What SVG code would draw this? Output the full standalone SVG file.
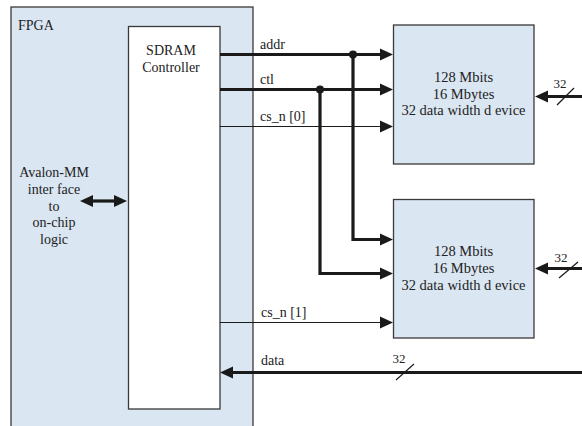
<svg xmlns="http://www.w3.org/2000/svg" width="582" height="426" viewBox="0 0 582 426">
<style>
  .box{fill:#dae6f2;stroke:#3a3a3a;stroke-width:1.3}
  .ctrl{fill:#ffffff;stroke:#3a3a3a;stroke-width:1.3}
  text{font-family:"Liberation Serif","Times New Roman",serif;font-size:14px;fill:#222}
  .c{text-anchor:middle}
  .m{font-size:14.5px}
  .sm{font-size:13px}
  .thick{stroke:#1a1a1a;stroke-width:3.2;fill:none}
  .thin{stroke:#1a1a1a;stroke-width:1.2;fill:none}
  .ah{marker-end:url(#ah)}
</style>
<defs>
  <marker id="ah" markerUnits="userSpaceOnUse" markerWidth="14" markerHeight="14" refX="0" refY="6.5" orient="auto">
    <path d="M0,0.5 L13,6.5 L0,12.5 z" fill="#1a1a1a"/>
  </marker>
  <marker id="ahs" markerUnits="userSpaceOnUse" markerWidth="14" markerHeight="14" refX="0" refY="6.5" orient="auto-start-reverse">
    <path d="M0,0.5 L13,6.5 L0,12.5 z" fill="#1a1a1a"/>
  </marker>
</defs>
<g id="fpga">
  <rect class="box" x="11" y="7" width="242" height="430"/>
  <text x="18" y="30">FPGA</text>
  <text class="c" x="54" y="177">Avalon-MM</text>
  <text class="c" x="54" y="194">inter face</text>
  <text class="c" x="54" y="211">to</text>
  <text class="c" x="54" y="227">on-chip</text>
  <text class="c" x="54" y="244">logic</text>
</g>
<g id="controller">
  <rect class="ctrl" x="128.5" y="26.5" width="91.5" height="382.5"/>
  <text class="c" x="171" y="55">SDRAM</text>
  <text class="c" x="171" y="72">Controller</text>
</g>
<g id="mem1">
  <rect class="box" x="393.5" y="25" width="140.5" height="139"/>
  <text class="c m" x="463.5" y="82">128 Mbits</text>
  <text class="c m" x="463.5" y="99">16 Mbytes</text>
  <text class="c m" x="463.5" y="115">32 data width d evice</text>
</g>
<g id="mem2">
  <rect class="box" x="393.5" y="199.5" width="140.5" height="138.5"/>
  <text class="c m" x="463.5" y="256">128 Mbits</text>
  <text class="c m" x="463.5" y="273">16 Mbytes</text>
  <text class="c m" x="463.5" y="290">32 data width d evice</text>
</g>
<g id="connectors">
  <line class="thick" x1="93" y1="201" x2="114" y2="201" marker-start="url(#ahs)" marker-end="url(#ahs)"/>
  <line class="thick ah" x1="220" y1="54.5" x2="380" y2="54.5"/>
  <text x="260" y="49">addr</text>
  <circle cx="353" cy="54.5" r="4" fill="#1a1a1a"/>
  <polyline class="thick ah" points="353,54.5 353,239.5 380,239.5"/>
  <line class="thick ah" x1="220" y1="89.5" x2="380" y2="89.5"/>
  <text x="260" y="84">ctl</text>
  <circle cx="320" cy="89.5" r="4" fill="#1a1a1a"/>
  <polyline class="thick ah" points="320,89.5 320,273.5 380,273.5"/>
  <line class="thin ah" x1="220" y1="126.5" x2="380" y2="126.5"/>
  <text x="260" y="121">cs_n [0]</text>
  <line class="thin ah" x1="220" y1="322.5" x2="380" y2="322.5"/>
  <text x="261" y="317">cs_n [1]</text>
  <line class="thick ah" x1="582" y1="372.5" x2="233" y2="372.5"/>
  <text x="261" y="365">data</text>
  <line class="thin" x1="396" y1="380" x2="414" y2="364"/>
  <text class="c sm" x="399" y="363">32</text>
  <line class="thick ah" x1="582" y1="96.5" x2="548" y2="96.5"/>
  <line class="thin" x1="557" y1="105" x2="574" y2="88"/>
  <text class="c sm" x="560" y="88">32</text>
  <line class="thick ah" x1="582" y1="268.5" x2="548" y2="268.5"/>
  <line class="thin" x1="559" y1="278" x2="578" y2="262"/>
  <text class="c sm" x="561" y="262">32</text>
</g>
</svg>
